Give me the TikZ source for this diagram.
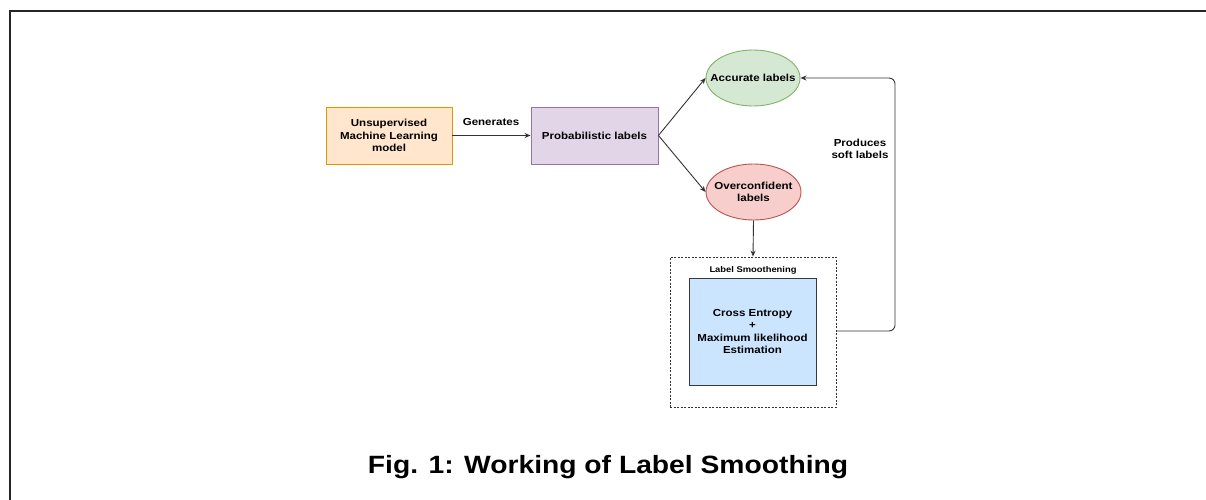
\documentclass[tikz,border=0pt]{standalone}
\usepackage{fontspec}
\setmainfont{Liberation Sans}[FakeStretch=1.13]
\usetikzlibrary{shapes.geometric,arrows.meta}
\definecolor{orfill}{HTML}{FFE6CC}\definecolor{ordraw}{HTML}{D79B00}
\definecolor{pufill}{HTML}{E1D5E7}\definecolor{pudraw}{HTML}{9673A6}
\definecolor{grfill}{HTML}{D5E8D4}\definecolor{grdraw}{HTML}{82B366}
\definecolor{rdfill}{HTML}{F8CECC}\definecolor{rddraw}{HTML}{B85450}
\definecolor{blfill}{HTML}{CCE5FF}\definecolor{bldraw}{HTML}{36393D}
\definecolor{ln}{HTML}{333333}
\tikzset{
  lbl/.style={font=\fontsize{10.2}{12.2}\selectfont\bfseries, align=center, text=black, inner sep=0pt},
  rbox/.style={lbl, draw, rectangle, line width=0.9pt},
  ebox/.style={draw, ellipse, line width=0.9pt, inner sep=0pt},
  conn/.style={draw=ln, line width=0.9pt, -{Stealth[length=6pt,width=5pt]}},
}
\begin{document}
\begin{tikzpicture}[x=1pt,y=-1pt]
\useasboundingbox (0,0) rectangle (1206,500);
% frame
\draw[line width=1.3pt, draw=black!85] (10,500) coordinate (fbl) -- (10,11) coordinate (ftl) -- (1206,11) coordinate (ftr);
% nodes
\node[rbox, fill=orfill, draw=ordraw, minimum width=126pt, minimum height=57pt] (um) at (389,135.5) {Unsupervised\\Machine Learning\\model};
\node[rbox, fill=pufill, draw=pudraw, minimum width=127pt, minimum height=57pt] (pl) at (594.5,135.5) {Probabilistic labels};
\node[ebox, fill=grfill, draw=grdraw, minimum width=94pt, minimum height=56pt] (acc) at (753,78) {};
\node[lbl] (acct) at (acc.center) {Accurate labels};
\node[ebox, fill=rdfill, draw=rddraw, minimum width=95pt, minimum height=56pt] (ovc) at (753.5,192) {};
\node[lbl] (ovct) at (ovc.center) {Overconfident\\labels};
\node[draw=ln, dashed, dash pattern=on 2pt off 1.5pt, line width=0.8pt, minimum width=166pt, minimum height=150pt, inner sep=0pt] (ls) at (753,332) {};
\node[lbl, font=\fontsize{8.3}{10}\selectfont\bfseries] (lst) at (753,270.5) {Label Smoothening};
\node[rbox, fill=blfill, draw=bldraw, minimum width=127pt, minimum height=107pt] (ce) at (752.5,331.5) {Cross Entropy\\+\\Maximum likelihood\\Estimation};
\node[lbl] (gen) at (491,121.5) {Generates};
\node[lbl] (prod) at (860,149) {Produces\\soft labels};
\node[font=\fontsize{25}{30}\selectfont\bfseries, inner sep=0pt] (cap) at (608,467) {Fig. 1: Working of Label Smoothing};
% connectors
\draw[conn] (um.east) -- (pl.west);
\draw[conn] (pl.east) -- (acc.west);
\draw[conn] (pl.east) -- (ovc.west);
\draw[conn] (ovc.south) -- (ls.north);
\coordinate (c1) at (895,331);
\coordinate (c2) at (895,78);
\draw[conn, rounded corners=6pt] (ls.east |- c1) -- (c1) -- (c2) -- (acc.east);
\end{tikzpicture}
\end{document}
